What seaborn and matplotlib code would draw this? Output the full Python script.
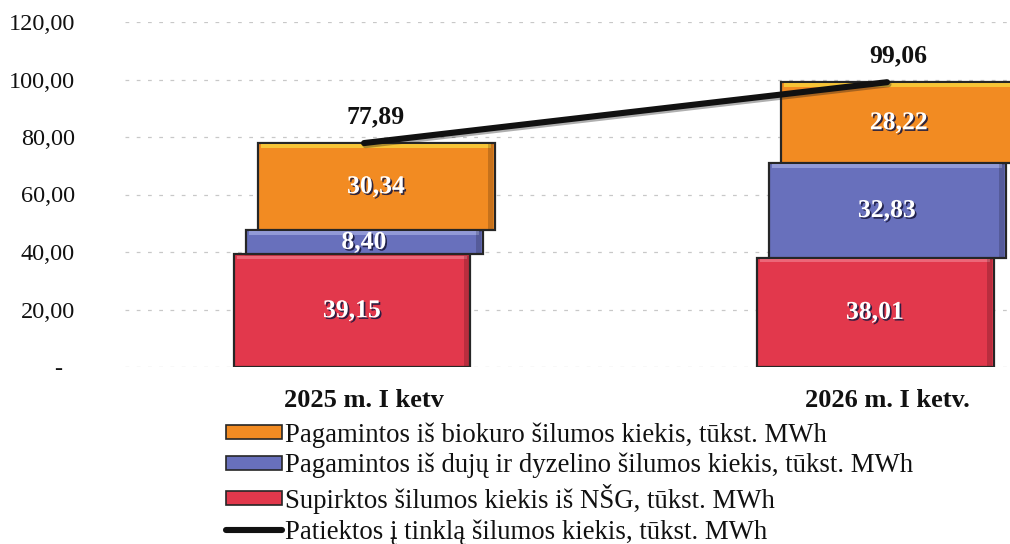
import numpy as np
import pandas as pd
import matplotlib
matplotlib.use("Agg")
import matplotlib.pyplot as plt
import matplotlib.patheffects as pe
from matplotlib.patches import Patch, Rectangle
from matplotlib.lines import Line2D
import seaborn as sns

# ── data ─────────────────────────────────────────────
periods = ["2025 m. I ketv", "2026 m. I ketv."]
biofuel = [30.34, 28.22]      # Pagamintos iš biokuro
gas_diesel = [8.40, 32.83]    # Pagamintos iš dujų ir dyzelino
bought = [39.15, 38.01]       # Supirktos iš NŠG
supplied = [77.89, 99.06]     # Patiektos į tinklą

labels = [
    "Pagamintos iš biokuro šilumos kiekis, tūkst. MWh",
    "Pagamintos iš dujų ir dyzelino šilumos kiekis, tūkst. MWh",
    "Supirktos šilumos kiekis iš NŠG, tūkst. MWh",
    "Patiektos į tinklą šilumos kiekis, tūkst. MWh",
]

C_ORANGE = "#F28B22"
C_BLUE = "#6870BC"
C_RED = "#E2384C"
HIGHLIGHT = {C_ORANGE: "#F8CF3A", C_BLUE: "#9AA2DC", C_RED: "#EE7080"}

sns.set_theme(style="white")
plt.rcParams["font.family"] = ["Liberation Serif", "DejaVu Serif"]


def fmt(v):
    return f"{v:.2f}".replace(".", ",")


fig = plt.figure(figsize=(10.1, 5.44), dpi=100)
ax = fig.add_axes([125 / 1010, 177 / 544, 885 / 1010, 345 / 544])

pos = np.arange(len(periods))
bar_w = 0.453
shift = 0.023   # each stacked segment is nudged right (3D look)

segments = [
    (bought, C_RED, -shift),
    (gas_diesel, C_BLUE, 0.0),
    (biofuel, C_ORANGE, shift),
]

base = np.zeros(len(periods))
for vals, col, off in segments:
    df = pd.DataFrame({"x": pos + off, "y": vals})
    sns.barplot(data=df, x="x", y="y", native_scale=True, width=bar_w,
                color=col, errorbar=None, bottom=base.copy(),
                edgecolor="#262626", linewidth=1.6, saturation=1, ax=ax,
                zorder=2)
    for i, v in enumerate(vals):
        ax.text(pos[i] + off, base[i] + v / 2, fmt(v), ha="center",
                va="center", color="white", fontsize=18.5, fontweight="bold",
                zorder=5,
                path_effects=[pe.withSimplePatchShadow(offset=(1.2, -1.2),
                                                       shadow_rgbFace="#1a1a40",
                                                       alpha=0.9)])
    base += np.array(vals)

# bevel highlight along the top of each bar segment
for p in list(ax.patches):
    col = matplotlib.colors.to_hex(p.get_facecolor())
    hl = HIGHLIGHT.get(col.upper(), "#ffffff")
    ax.add_patch(Rectangle((p.get_x() + 0.006, p.get_y() + p.get_height() - 1.6),
                           p.get_width() - 0.012, 1.2, facecolor=hl,
                           edgecolor="none", alpha=0.85, zorder=3))
    ax.add_patch(Rectangle((p.get_x() + p.get_width() - 0.012, p.get_y() + 0.4),
                           0.009, p.get_height() - 0.8, facecolor="black",
                           edgecolor="none", alpha=0.18, zorder=3))

# total line
sns.lineplot(x=pos, y=supplied, color="#111111", linewidth=4.4, ax=ax,
             zorder=6, solid_capstyle="round",
             path_effects=[pe.SimpleLineShadow(offset=(1, -1.5), alpha=0.35),
                           pe.Normal()])
for i, v in enumerate(supplied):
    ax.annotate(fmt(v), (pos[i], v), xytext=(8, 19), textcoords="offset points",
                ha="center", va="center", fontsize=18.5, fontweight="bold",
                color="#111111", zorder=7)

ax.set_xlim(-0.457, 1.235)
ax.set_ylim(0, 120)
ax.set_yticks(np.arange(0, 121, 20))
ax.set_yticklabels(["-  "] + [fmt(t) for t in np.arange(20, 121, 20)])
ax.set_xticks(pos)
ax.set_xticklabels(periods, fontweight="bold")
ax.tick_params(axis="y", length=0, pad=36, labelsize=17.5, labelcolor="#111111")
ax.tick_params(axis="x", length=0, pad=16, labelsize=19, labelcolor="#111111")
ax.set_xlabel("")
ax.set_ylabel("")
ax.grid(axis="y", color="#c8c8c8", linestyle=(0, (3, 6)), linewidth=0.9)
ax.grid(axis="x", visible=False)
ax.set_axisbelow(True)
for s in ax.spines.values():
    s.set_visible(False)

handles = [
    Patch(facecolor=C_ORANGE, edgecolor="#262626", linewidth=1.2),
    Patch(facecolor=C_BLUE, edgecolor="#262626", linewidth=1.2),
    Patch(facecolor=C_RED, edgecolor="#262626", linewidth=1.2),
    Line2D([], [], color="#111111", linewidth=4.4),
]
fig.legend(handles, labels, loc="upper left", bbox_to_anchor=(226 / 1010, 1 - 422 / 544),
           frameon=False, fontsize=19.3, handlelength=2.1, handleheight=0.45,
           handletextpad=0.1, labelspacing=0.2, borderpad=0, borderaxespad=0,
           labelcolor="#111111")

fig.savefig("out.png", dpi=100)
